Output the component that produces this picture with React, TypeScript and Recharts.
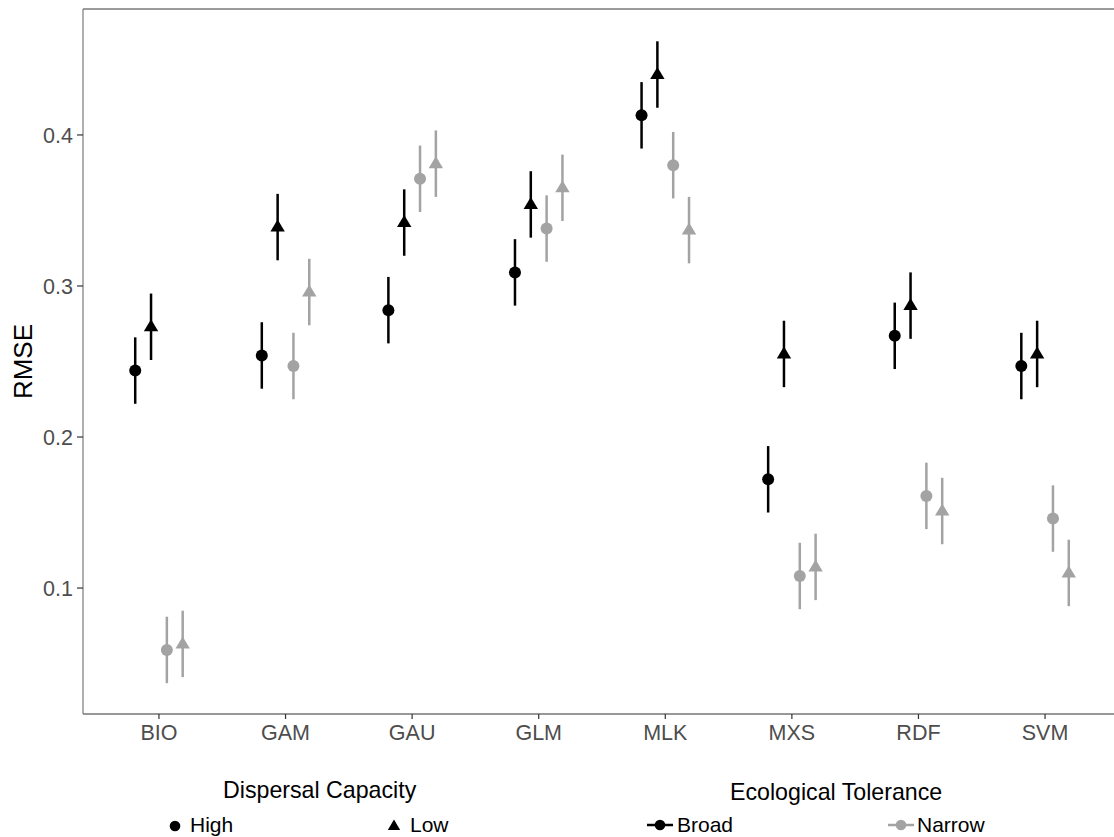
import React from 'react';
import { ScatterChart, Scatter, XAxis, YAxis, ErrorBar, ReferenceLine } from 'recharts';

const models = ['BIO', 'GAM', 'GAU', 'GLM', 'MLK', 'MXS', 'RDF', 'SVM'];

// RMSE means
const highBroad = [0.244, 0.254, 0.284, 0.309, 0.413, 0.172, 0.267, 0.247];
const lowBroad = [0.273, 0.339, 0.342, 0.354, 0.440, 0.255, 0.287, 0.255];
const highNarrow = [0.059, 0.247, 0.371, 0.338, 0.380, 0.108, 0.161, 0.146];
const lowNarrow = [0.063, 0.296, 0.381, 0.365, 0.337, 0.114, 0.151, 0.110];

// half-length of the error bars
const highBroadErr = [0.022, 0.022, 0.022, 0.022, 0.022, 0.022, 0.022, 0.022];
const lowBroadErr = [0.022, 0.022, 0.022, 0.022, 0.022, 0.022, 0.022, 0.022];
const highNarrowErr = [0.022, 0.022, 0.022, 0.022, 0.022, 0.022, 0.022, 0.022];
const lowNarrowErr = [0.022, 0.022, 0.022, 0.022, 0.022, 0.022, 0.022, 0.022];

const yTicks = [0.1, 0.2, 0.3, 0.4];
const xTicks = [1, 2, 3, 4, 5, 6, 7, 8];
const yDomain: [number, number] = [0.0166, 0.4834];
const xDomain: [number, number] = [0.4, 8.6];

const BLACK = '#000000';
const GREY = '#a3a3a3';
const FONT = '"Liberation Sans", Arial, sans-serif';

// dodge width 0.5 split over four groups
const build = (vals: number[], errs: number[], offset: number) =>
  vals.map((v, i) => ({ x: i + 1 + offset, y: v, err: errs[i], model: models[i] }));

const series = [
  { name: 'High / Broad', data: build(highBroad, highBroadErr, -0.1875), color: BLACK, shape: 'circle' },
  { name: 'Low / Broad', data: build(lowBroad, lowBroadErr, -0.0625), color: BLACK, shape: 'triangle' },
  { name: 'High / Narrow', data: build(highNarrow, highNarrowErr, 0.0625), color: GREY, shape: 'circle' },
  { name: 'Low / Narrow', data: build(lowNarrow, lowNarrowErr, 0.1875), color: GREY, shape: 'triangle' },
];

const makeShape = (kind: string, color: string) => (props: any) => {
  const { cx, cy } = props;
  if (cx == null || cy == null) return <g />;
  if (kind === 'circle') return <circle cx={cx} cy={cy} r={6} fill={color} />;
  return (
    <path
      d={`M${cx},${cy - 7.5} L${cx + 7.2},${cy + 4.5} L${cx - 7.2},${cy + 4.5} Z`}
      fill={color}
    />
  );
};

const YLabel = (props: any) => {
  const vb = props.viewBox || {};
  const cy = vb.y + vb.height / 2;
  return (
    <text
      x={23}
      y={cy}
      transform={`rotate(-90, 23, ${cy})`}
      textAnchor="middle"
      dominantBaseline="central"
      fontSize={26}
      fontFamily={FONT}
      fill="#000"
    >
      RMSE
    </text>
  );
};

function LegendOverlay() {
  return (
    <svg
      width={1114}
      height={837}
      style={{ position: 'absolute', left: 0, top: 0, pointerEvents: 'none' }}
      fontFamily={FONT}
    >
      <text x={223} y={798} fontSize={23.2} fill="#000">Dispersal Capacity</text>
      <circle cx={175} cy={826} r={5.3} fill={BLACK} />
      <text x={190} y={832} fontSize={21} fill="#000">High</text>
      <path d="M394,819.5 L400.2,830 L387.8,830 Z" fill={BLACK} />
      <text x={410} y={832} fontSize={21} fill="#000">Low</text>

      <text x={730} y={800} fontSize={23.2} fill="#000">Ecological Tolerance</text>
      <line x1={647} y1={825} x2={673} y2={825} stroke={BLACK} strokeWidth={2.5} />
      <circle cx={660} cy={825} r={5.3} fill={BLACK} />
      <text x={677} y={832} fontSize={21} fill="#000">Broad</text>
      <line x1={888} y1={825} x2={914} y2={825} stroke={GREY} strokeWidth={2.5} />
      <circle cx={901} cy={825} r={5.3} fill={GREY} />
      <text x={917} y={832} fontSize={21} fill="#000">Narrow</text>
    </svg>
  );
}

export default function App() {
  return (
    <div
      style={{
        position: 'fixed',
        left: 0,
        top: 0,
        width: 1114,
        height: 837,
        overflow: 'hidden',
        background: '#fff',
      }}
    >
      <ScatterChart width={1170} height={837} margin={{ top: 9, right: 49, left: 33, bottom: 93 }}>
        <XAxis
          type="number"
          dataKey="x"
          domain={xDomain}
          ticks={xTicks}
          interval={0}
          allowDataOverflow
          height={30}
          tickFormatter={(v: number) => models[Math.round(v) - 1]}
          tick={{ fill: '#4d4d4d', fontSize: 21.5, fontFamily: FONT }}
          tickSize={5}
          tickMargin={6}
          axisLine={{ stroke: '#333', strokeWidth: 1.2 }}
          tickLine={{ stroke: '#333', strokeWidth: 1.2 }}
        />
        <YAxis
          type="number"
          dataKey="y"
          domain={yDomain}
          ticks={yTicks}
          interval={0}
          allowDataOverflow
          width={50}
          tickFormatter={(v: number) => v.toFixed(1)}
          tick={{ fill: '#4d4d4d', fontSize: 21.5, fontFamily: FONT }}
          tickSize={6}
          tickMargin={4}
          axisLine={{ stroke: '#7a7a7a', strokeWidth: 1.2 }}
          tickLine={{ stroke: '#333', strokeWidth: 1.2 }}
          label={<YLabel />}
        />
        <ReferenceLine y={yDomain[1]} stroke="#7a7a7a" strokeWidth={1.5} ifOverflow="visible" />
        {series.map((s) => (
          <Scatter
            key={s.name}
            name={s.name}
            data={s.data}
            fill={s.color}
            shape={makeShape(s.shape, s.color)}
            isAnimationActive={false}
          >
            <ErrorBar dataKey="err" direction="y" width={0} stroke={s.color} strokeWidth={2.5} />
          </Scatter>
        ))}
      </ScatterChart>
      <LegendOverlay />
    </div>
  );
}
